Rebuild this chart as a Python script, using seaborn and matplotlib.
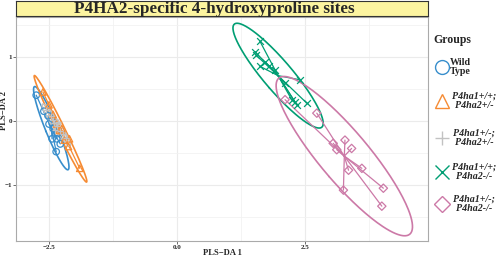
import numpy as np
import pandas as pd
import matplotlib
matplotlib.use("Agg")
import matplotlib.pyplot as plt
from matplotlib.lines import Line2D
import seaborn as sns

# ---------------- data ----------------
groups = ["Wild\nType", "P4ha1+/+;\nP4ha2+/-", "P4ha1+/-;\nP4ha2+/-",
          "P4ha1+/+;\nP4ha2-/-", "P4ha1+/-;\nP4ha2-/-"]
colors = ["#388ECC", "#F68B33", "#C2C2C2", "#009E73", "#CC79A7"]
markers = ["o", "^", "+", "x", "D"]

wt_x = [-2.75, -2.60, -2.52, -2.50, -2.42, -2.44, -2.35, -2.28, -2.36, -2.34]
wt_y = [0.40, 0.15, 0.08, -0.05, -0.12, -0.28, -0.28, -0.36, -0.48, -0.20]
g2_x = [-2.62, -2.50, -2.42, -2.35, -2.30, -2.25, -2.20, -2.12, -2.10, -1.90]
g2_y = [0.45, 0.25, 0.10, -0.05, -0.15, -0.12, -0.30, -0.40, -0.28, -0.74]
g3_x = [-2.55, -2.47, -2.42, -2.33, -2.35, -2.38, -2.28, -2.23, -2.17, -2.40]
g3_y = [0.17, 0.07, 0.02, -0.02, -0.08, -0.14, -0.16, -0.21, -0.27, -0.04]
g4_x = [1.62, 1.52, 1.55, 1.62, 1.72, 1.91, 1.80, 2.40, 2.11, 2.34, 2.53, 2.24, 2.30]
g4_y = [1.24, 1.08, 1.02, 0.85, 0.92, 0.80, 0.86, 0.64, 0.59, 0.25, 0.28, 0.33, 0.30]
g5_x = [2.11, 2.73, 3.05, 3.28, 3.41, 3.12, 3.35, 3.61, 3.25, 4.03, 4.00]
g5_y = [0.33, 0.12, -0.35, -0.30, -0.43, -0.45, -0.77, -0.74, -1.08, -1.05, -1.33]

xs = [wt_x, g2_x, g3_x, g4_x, g5_x]
ys = [wt_y, g2_y, g3_y, g4_y, g5_y]

df = pd.concat([pd.DataFrame({"x": x, "y": y, "group": g})
                for x, y, g in zip(xs, ys, groups)], ignore_index=True)

# ---------------- style ----------------
sns.set_theme(style="white")
plt.rcParams["font.family"] = ["Liberation Serif", "DejaVu Serif"]
plt.rcParams["font.weight"] = "bold"

fig = plt.figure(figsize=(4.98, 2.57), dpi=100)
W, H = 498, 257
def fx(px): return px / W
def fy(py): return 1 - py / H

ax = fig.add_axes([fx(16), fy(241), fx(428) - fx(16), fy(17) - fy(241)])
strip = fig.add_axes([fx(16), fy(16), fx(428) - fx(16), fy(1) - fy(16)])

ax.set_xlim(-3.145, 4.902)
ax.set_ylim(-1.873, 1.619)

# grid
for v in [-2.5, 0, 2.5]:
    ax.axvline(v, color="#EBEBEB", lw=0.8, zorder=0)
for v in [-1.25, 1.25, 3.75]:
    ax.axvline(v, color="#F2F2F2", lw=0.6, zorder=0)
for v in [-1, 0, 1]:
    ax.axhline(v, color="#EBEBEB", lw=0.8, zorder=0)
for v in [-1.5, -0.5, 0.5, 1.5]:
    ax.axhline(v, color="#F2F2F2", lw=0.6, zorder=0)

# ellipses (95% normal confidence ellipse) and star lines
r = np.sqrt(-2 * np.log(1 - 0.95))
t = np.linspace(0, 2 * np.pi, 200)
for x, y, c in zip(xs, ys, colors):
    x = np.asarray(x); y = np.asarray(y)
    m = np.array([x.mean(), y.mean()])
    cov = np.cov(np.vstack([x, y]))
    ev, evec = np.linalg.eigh(cov)
    pts = m[:, None] + r * evec @ (np.sqrt(ev)[:, None] * np.vstack([np.cos(t), np.sin(t)]))
    ax.plot(pts[0], pts[1], color=c, lw=1.2, zorder=2)
    for xi, yi in zip(x, y):
        ax.plot([m[0], xi], [m[1], yi], color=c, lw=0.9, zorder=2)

for g, c, mk in zip(groups, colors, markers):
    sub = df[df["group"] == g]
    if mk in ("+", "x"):
        sns.scatterplot(data=sub, x="x", y="y", marker=mk, color=c, s=24,
                        linewidth=0.9, legend=False, ax=ax, zorder=3)
    else:
        sns.scatterplot(data=sub, x="x", y="y", marker=mk, s=18 if mk == "D" else 22,
                        facecolor="none", edgecolor=c, linewidth=0.9,
                        legend=False, ax=ax, zorder=3)

ax.set_xticks([-2.5, 0, 2.5])
ax.set_xticklabels(["\u22122.5", "0.0", "2.5"])
ax.set_yticks([-1, 0, 1])
ax.set_yticklabels(["\u22121", "0", "1"])
ax.tick_params(axis="both", length=2, width=0.6, color="#555555",
               labelsize=5, pad=1, direction="out", bottom=True, left=True)
for lab in ax.get_xticklabels() + ax.get_yticklabels():
    lab.set_fontweight("bold")
ax.set_xlabel("PLS\u2212DA 1", fontsize=6.2, fontweight="bold")
ax.set_ylabel("PLS\u2212DA 2", fontsize=6.2, fontweight="bold")
ax.xaxis.set_label_coords((222 - 16) / 412, -(249 - 241) / 224)
ax.yaxis.set_label_coords(-(16 - 8) / 412, (241 - 110) / 224)
for s in ax.spines.values():
    s.set_color("#AAAAAA")
    s.set_linewidth(0.8)

# title strip
strip.set_facecolor("#FCF4A0")
strip.set_xticks([]); strip.set_yticks([])
for s in strip.spines.values():
    s.set_color("#333333"); s.set_linewidth(0.8)
strip.text((214.5 - 16) / 412, 0.45, "P4HA2-specific 4-hydroxyproline sites",
           ha="center", va="center", fontsize=12.3, fontweight="bold",
           transform=strip.transAxes)

# legend
fig.text(fx(433), fy(40), "Groups", fontsize=8.5, fontweight="bold",
         ha="left", va="center")
ypos = [67, 101, 138, 172, 204]
for g, c, mk, yp in zip(groups, colors, markers, ypos):
    ms = 10 if mk != "D" else 8
    fig.add_artist(Line2D([fx(441.5)], [fy(yp)], marker=mk, color=c,
                          markerfacecolor="none", markeredgecolor=c,
                          markersize=ms, markeredgewidth=1.0,
                          linestyle="none", transform=fig.transFigure))
    if g.startswith("Wild"):
        fig.text(fx(450), fy(yp), g, fontsize=7.2, fontweight="bold",
                 ha="left", va="center", linespacing=1.0)
    else:
        fig.text(fx(474), fy(yp), g, fontsize=7.2, fontweight="bold",
                 style="italic", ha="center", va="center", linespacing=1.0,
                 multialignment="center")

fig.savefig("out.png", dpi=100)
